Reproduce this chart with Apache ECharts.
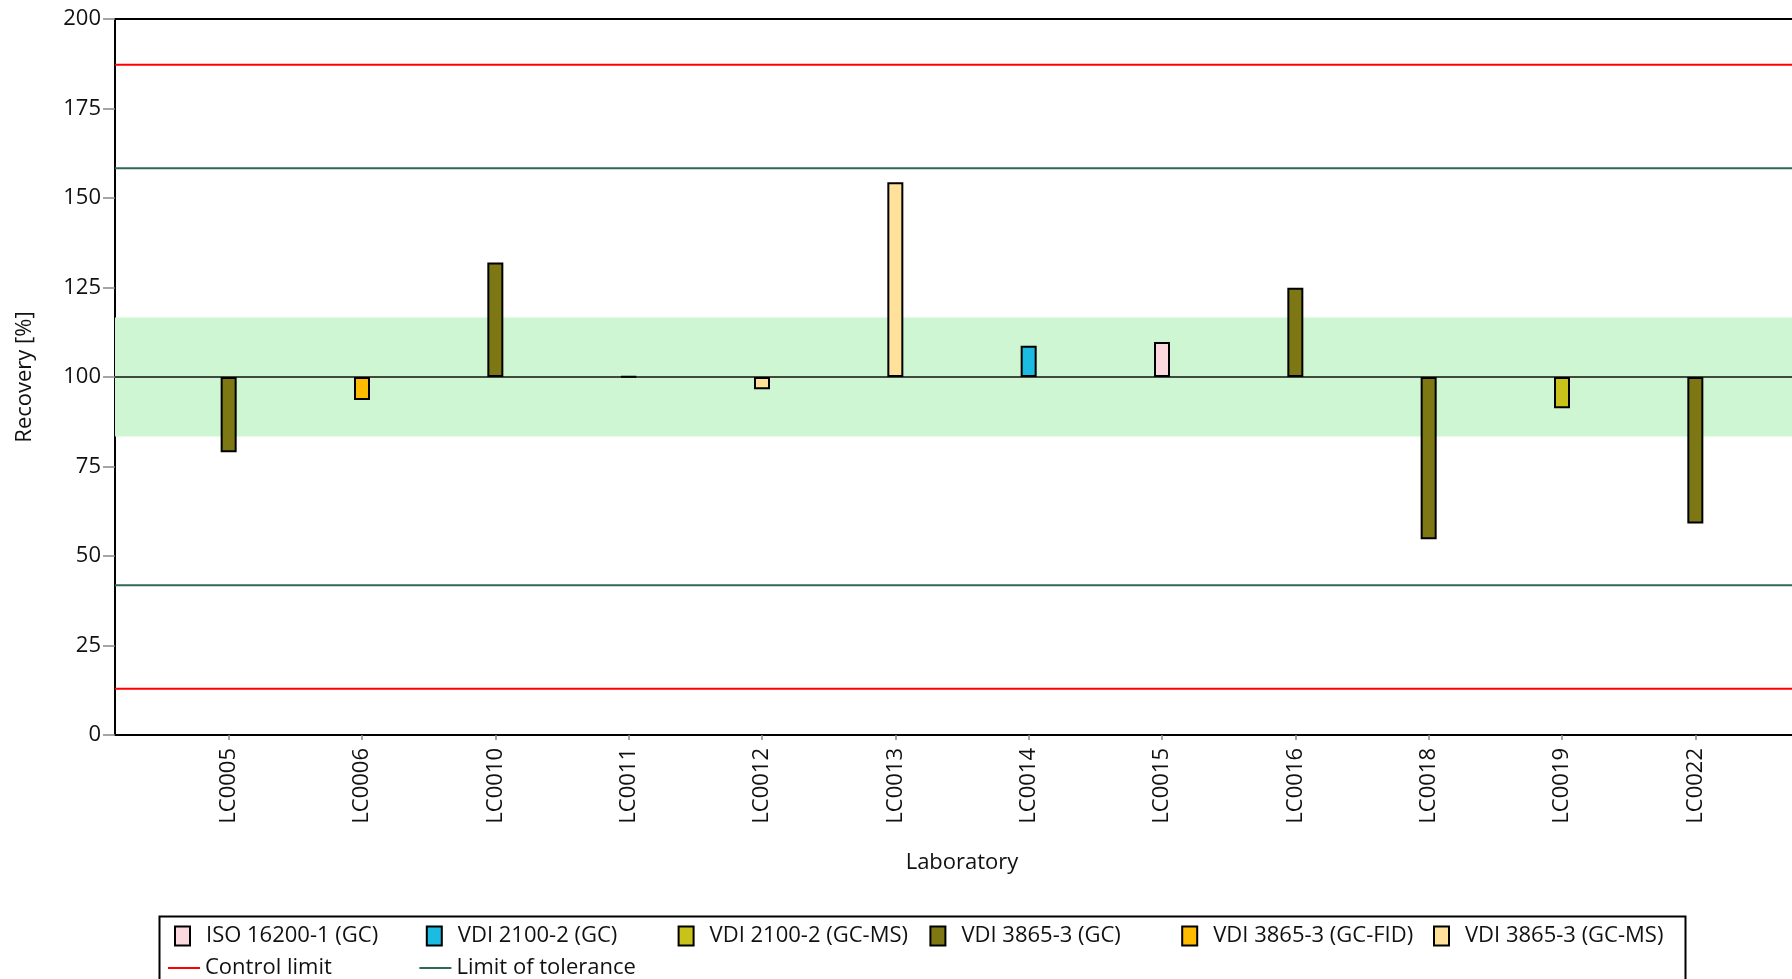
<!DOCTYPE html>
<html><head><meta charset="utf-8">
<script src="https://cdn.jsdelivr.net/npm/echarts@6/dist/echarts.min.js"></script>
<style>html,body{margin:0;padding:0;background:#fff}#c{width:1792px;height:979px}</style>
</head><body><div id="c"></div>
<script>
// ---- data ----
const labs = ['LC0005','LC0006','LC0010','LC0011','LC0012','LC0013','LC0014','LC0015','LC0016','LC0018','LC0019','LC0022'];
const recovery = [79.0, 93.6, 132.0, 100.2, 96.6, 154.4, 108.7, 109.8, 124.9, 54.7, 91.3, 59.1];
const labMethod = ['VDI 3865-3 (GC)','VDI 3865-3 (GC-FID)','VDI 3865-3 (GC)','VDI 3865-3 (GC)','VDI 3865-3 (GC-MS)','VDI 3865-3 (GC-MS)','VDI 2100-2 (GC)','ISO 16200-1 (GC)','VDI 3865-3 (GC)','VDI 3865-3 (GC)','VDI 2100-2 (GC-MS)','VDI 3865-3 (GC)'];
const methods = ['ISO 16200-1 (GC)','VDI 2100-2 (GC)','VDI 2100-2 (GC-MS)','VDI 3865-3 (GC)','VDI 3865-3 (GC-FID)','VDI 3865-3 (GC-MS)'];
const methodColors = ['#fcd9df','#1cbbe2','#c9c21b','#7d7814','#ffbb00','#ffe19c'];
const limitNames = ['Control limit', 'Limit of tolerance'];
const referenceValue = 100;
const controlLimits = [187.2, 12.9];
const toleranceLimits = [158.3, 41.8];
const acceptBand = [83.4, 116.6];
const yMin = 0, yMax = 200, yStep = 25;

const FONT = 'Open Sans';
const FS = 22;
const chart = echarts.init(document.getElementById('c'), null, {renderer: 'canvas'});

const hline = (name, v, color, width, z) => ({
  name, type: 'line', xAxisIndex: 0, yAxisIndex: 0, symbol: 'none', silent: true, z,
  lineStyle: {color, width}, itemStyle: {color},
  data: [[0, v], [1, v]], animation: false
});

const series = [
  {
    name: 'band', type: 'line', xAxisIndex: 0, yAxisIndex: 0, symbol: 'none', silent: true, z: 0,
    data: [], lineStyle: {width: 0},
    markArea: {silent: true, itemStyle: {color: '#cef6d2'}, data: [[{yAxis: acceptBand[0]}, {yAxis: acceptBand[1]}]]}
  },
  hline('ref', referenceValue, '#111', 1.5, 1),
  hline(limitNames[0], controlLimits[0], '#ff0000', 2, 1),
  hline(limitNames[0], controlLimits[1], '#ff0000', 2, 1),
  hline(limitNames[1], toleranceLimits[0], '#2d6a53', 2, 1),
  hline(limitNames[1], toleranceLimits[1], '#2d6a53', 2, 1),
  {
    name: 'base', type: 'bar', xAxisIndex: 1, yAxisIndex: 1, stack: 'r', barWidth: 16, silent: true,
    itemStyle: {color: 'rgba(0,0,0,0)'},
    data: recovery.map(v => Math.min(v, referenceValue))
  }
];
methods.forEach((m, k) => {
  series.push({
    name: m, type: 'bar', xAxisIndex: 1, yAxisIndex: 1, stack: 'r', barWidth: 16, z: 3,
    itemStyle: {color: methodColors[k], borderColor: '#000', borderWidth: 2},
    data: recovery.map((v, i) => labMethod[i] === m ? Math.abs(v - referenceValue) : '-')
  });
});

const legends = [];
methods.forEach((m, k) => legends.push({
  data: [m], left: 174 + k * 251.8, top: 925, padding: 0, icon: 'rect',
  itemWidth: 15, itemHeight: 19, selectedMode: false,
  textStyle: {fontSize: FS, color: '#111', fontFamily: FONT, padding: [0, 0, 0, 11]}
}));
limitNames.forEach((n, k) => legends.push({
  data: [n], left: 168 + k * 251.4, top: 957, padding: 0, icon: 'rect',
  itemWidth: 32, itemHeight: 2, selectedMode: false,
  textStyle: {fontSize: FS, color: '#111', fontFamily: FONT}
}));

chart.setOption({
  animation: false,
  backgroundColor: '#fff',
  textStyle: {fontFamily: FONT},
  grid: [
    {left: 115, right: 0, top: 19, bottom: 244, outerBoundsMode: 'none', containLabel: false},
    {left: 162, width: 1600, top: 19, bottom: 244, outerBoundsMode: 'none', containLabel: false}
  ],
  xAxis: [
    {type: 'value', gridIndex: 0, min: 0, max: 1, position: 'bottom',
     axisLine: {show: true, lineStyle: {color: '#000', width: 2}}, axisTick: {show: false},
     axisLabel: {show: false}, splitLine: {show: false}},
    {type: 'category', gridIndex: 1, data: labs, boundaryGap: true,
     axisLine: {show: true, lineStyle: {color: '#000', width: 2}},
     axisTick: {show: true, alignWithLabel: true, length: 5, lineStyle: {color: '#888', width: 1.5}},
     axisLabel: {rotate: 90, margin: 13, fontSize: FS, color: '#111', fontFamily: FONT},
     name: 'Laboratory', nameLocation: 'middle', nameGap: 117,
     nameTextStyle: {fontSize: FS, color: '#111', fontFamily: FONT}},
    {type: 'value', gridIndex: 0, min: 0, max: 1, position: 'top',
     axisLine: {show: true, onZero: false, lineStyle: {color: '#000', width: 2}}, axisTick: {show: false},
     axisLabel: {show: false}, splitLine: {show: false}}
  ],
  yAxis: [
    {type: 'value', gridIndex: 0, min: yMin, max: yMax, interval: yStep,
     axisLine: {show: true, lineStyle: {color: '#000', width: 2}},
     axisTick: {show: true, length: 12, lineStyle: {color: '#888', width: 1.5}},
     axisLabel: {fontSize: FS, color: '#111', margin: 14, fontFamily: FONT},
     splitLine: {show: false},
     name: 'Recovery [%]', nameLocation: 'middle', nameGap: 79, nameRotate: 90,
     nameTextStyle: {fontSize: FS, color: '#111', fontFamily: FONT}},
    {type: 'value', gridIndex: 1, min: yMin, max: yMax, show: false}
  ],
  legend: legends,
  graphic: [
    {type: 'rect', left: 157, top: 914, shape: {width: 1526, height: 120}, z: 100,
     style: {fill: 'none', stroke: '#000', lineWidth: 2}}
  ],
  series
});
</script></body></html>
